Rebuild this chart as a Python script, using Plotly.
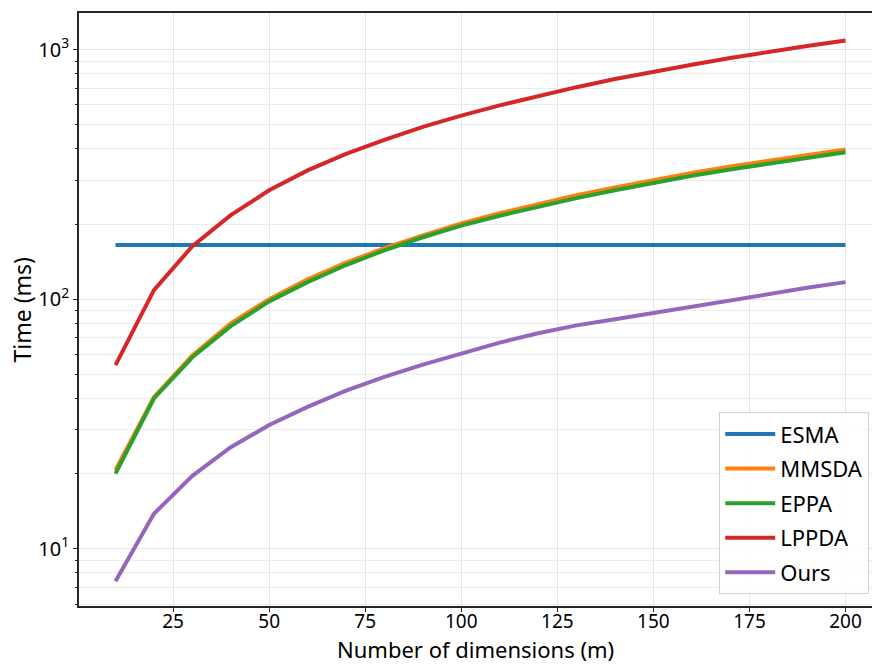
import plotly.graph_objects as go

dims = [10, 20, 30, 40, 50, 60, 70, 80, 90, 100, 110, 120, 130, 140, 150, 160, 170, 180, 190, 200]

esma = [165] * 20
mmsda = [20.7, 40.5, 59.5, 80, 100, 120, 140, 160, 180, 201, 221, 241, 261, 280, 300, 320, 340, 359, 379, 398]
eppa = [20.0, 40.0, 58.5, 78, 98, 117, 137, 157, 177, 197, 216, 235, 254, 273, 293, 312, 331, 350, 369, 388]
lppda = [54.4, 108.6, 163, 217, 273, 328, 382, 435, 490, 544, 598, 653, 707, 762, 816, 870, 925, 980, 1034, 1088]
ours = [7.4, 13.8, 19.6, 25.5, 31.3, 37.0, 43.0, 48.8, 54.7, 60.5, 67, 73, 78.5, 83, 88, 93.5, 99, 105, 111, 117]

series_names = ["ESMA", "MMSDA", "EPPA", "LPPDA", "Ours"]
series_vals = [esma, mmsda, eppa, lppda, ours]
colors = ["#1f77b4", "#ff7f0e", "#2ca02c", "#d62728", "#9467bd"]

x_ticks = [25, 50, 75, 100, 125, 150, 175, 200]
y_tickvals = [10, 100, 1000]
y_ticktext = ["10<sup>1</sup>", "10<sup>2</sup>", "10<sup>3</sup>"]

x_title = "Number of dimensions (m)"
y_title = "Time (ms)"

FONT = "Noto Sans"

fig = go.Figure()
for name, vals, col in zip(series_names, series_vals, colors):
    fig.add_trace(go.Scatter(
        x=dims, y=vals, mode="lines", name=name,
        line=dict(color=col, width=4),
        legendgroup=name,
    ))

fig.update_layout(
    width=872, height=665,
    margin=dict(l=79, r=0, t=13, b=59),
    paper_bgcolor="white", plot_bgcolor="white",
    font=dict(family=FONT, color="black"),
    showlegend=True,
    legend=dict(
        x=0.9965, xanchor="right", y=0.02, yanchor="bottom",
        bgcolor="rgba(255,255,255,0.85)", bordercolor="#d0d0d0", borderwidth=1,
        font=dict(family=FONT, size=22, color="black"),
        traceorder="grouped", tracegroupgap=3, itemwidth=50,
    ),
    annotations=[
        dict(text=x_title, xref="paper", yref="paper", x=0.5, y=-0.0994,
             xanchor="center", yanchor="bottom", showarrow=False, borderpad=0,
             font=dict(family=FONT, size=22, color="black")),
        dict(text=y_title, xref="paper", yref="paper", x=-0.0719, y=0.5,
             xanchor="center", yanchor="middle", showarrow=False, textangle=-90, borderpad=0,
             font=dict(family=FONT, size=23, color="black")),
    ],
)

fig.update_xaxes(
    range=[0.5, 206.9],
    tickvals=x_ticks,
    ticks="outside", ticklen=4, tickcolor="#262626",
    ticklabelstandoff=-7,
    showline=True, linecolor="#262626", linewidth=1.5, mirror=True,
    showgrid=True, gridcolor="#e6e6e6", gridwidth=1,
    zeroline=False,
    tickfont=dict(family=FONT, size=19, color="black"),
)

fig.update_yaxes(
    type="log",
    range=[0.7705, 3.1466],
    tickvals=y_tickvals, ticktext=y_ticktext,
    ticks="outside", ticklen=4, tickcolor="#262626",
    showline=True, linecolor="#262626", linewidth=1.5,
    showgrid=True, gridcolor="#e6e6e6", gridwidth=1,
    minor=dict(dtick="D1", ticks="outside", ticklen=2.5, tickcolor="#262626",
               showgrid=True, gridcolor="#ececec", gridwidth=1),
    zeroline=False,
    tickfont=dict(family=FONT, size=20, color="black"),
)

fig.write_html("out.html")
